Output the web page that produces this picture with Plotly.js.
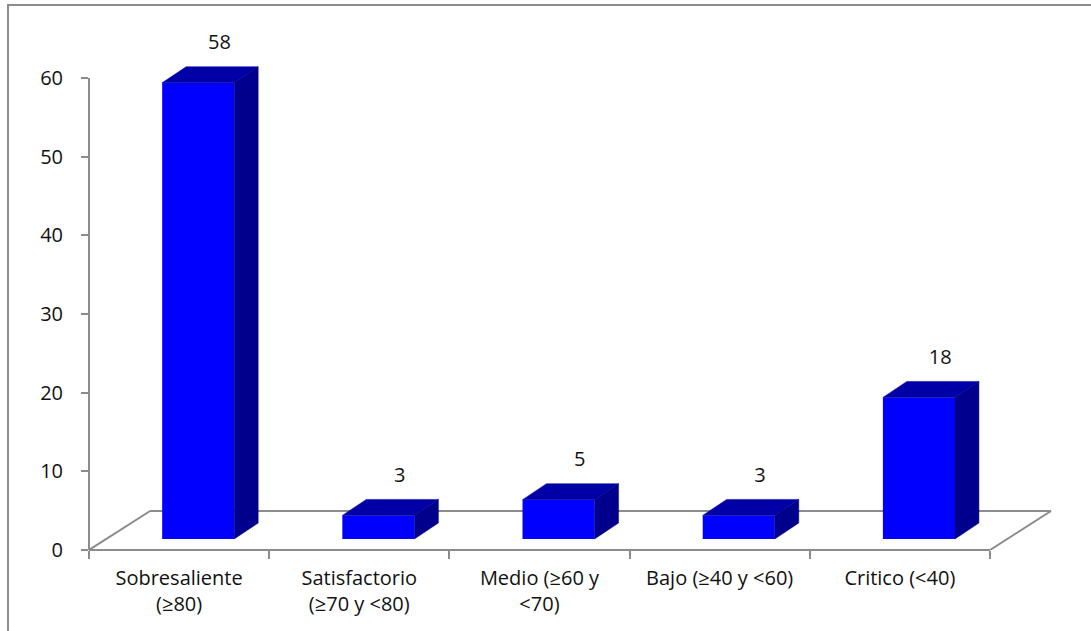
<!DOCTYPE html>
<html>
<head>
<meta charset="utf-8">
<script src="https://cdn.plot.ly/plotly-3.0.1.min.js"></script>
<style>
html,body{margin:0;padding:0;background:#fff;}
#chart{width:1091px;height:631px;}
</style>
</head>
<body>
<div id="chart"></div>
<script>
// ---- data ----
const categories = ["Sobresaliente<br>(≥80)", "Satisfactorio<br>(≥70 y &lt;80)", "Medio (≥60 y<br>&lt;70)", "Bajo (≥40 y &lt;60)", "Critico (&lt;40)"];
const values = [58, 3, 5, 3, 18];
const yTickVals = [0, 10, 20, 30, 40, 50, 60];
const yTickText = ["0", "10", "20", "30", "40", "50", "60"];

// ---- pseudo-3D geometry (in axis units) ----
const BASE = 1.4;     // floor height of bar front faces
const OFF = -0.094;   // bar left edge relative to category
const W = 0.4;        // bar width
const DX = 0.133;     // depth shift in x
const DY = 2.03;      // depth shift in y
const FLOOR_DX = 0.339, FLOOR_DY = 4.96;
const XR = [-0.5, 4.9];
const YR = [0, 68.64];

const W_PX = 1091, H_PX = 631;
const M = {l: 89, r: 29, t: 10, b: 81};
const plotW = W_PX - M.l - M.r, plotH = H_PX - M.t - M.b;

const topX = [], topY = [], sideX = [], sideY = [], labX = [], labY = [];
values.forEach((v, i) => {
  const x0 = i + OFF, x1 = x0 + W, top = BASE + v;
  topX.push(x0, x0 + DX, x1 + DX, x1, x0, null);
  topY.push(top, top + DY, top + DY, top, top, null);
  sideX.push(x1, x1 + DX, x1 + DX, x1, x1, null);
  sideY.push(BASE, BASE + DY, top + DY, top, BASE, null);
  labX.push(x0 + W / 2 + DX - 0.015);
  labY.push(top + DY + 2.85);
});

const FONT = "Open Sans, Arial, sans-serif";
const GRAY = "#8c8c8c";
const FS = 20;

const traces = [
  {type: "bar", x: categories, y: values, base: BASE, offset: OFF, width: W,
   marker: {color: "#0000FF", line: {width: 0}}, xaxis: "x", yaxis: "y", hoverinfo: "skip"},
  {type: "scatter", mode: "lines", x: topX, y: topY, fill: "toself", fillcolor: "#0000A6",
   line: {color: "#0000A6", width: 0.5}, xaxis: "x2", yaxis: "y", hoverinfo: "skip"},
  {type: "scatter", mode: "lines", x: sideX, y: sideY, fill: "toself", fillcolor: "#00008C",
   line: {color: "#00008C", width: 0.5}, xaxis: "x2", yaxis: "y", hoverinfo: "skip"},
  {type: "scatter", mode: "text", x: labX, y: labY, text: values.map(String),
   textposition: "middle center", textfont: {family: FONT, size: FS, color: "#111"},
   cliponaxis: false, xaxis: "x2", yaxis: "y", hoverinfo: "skip"}
];

const shapes = [
  // outer chart border (left & top visible)
  {type: "rect", xref: "paper", yref: "paper",
   x0: (8 - M.l) / plotW, x1: (W_PX + 20 - M.l) / plotW,
   y0: -(H_PX) / plotH, y1: (H_PX - 5 - M.b) / plotH,
   line: {color: GRAY, width: 2}, layer: "below"},
  // y axis line from 0 to 60
  {type: "line", xref: "paper", yref: "y", x0: 0, x1: 0, y0: 0, y1: 60,
   line: {color: GRAY, width: 2}, layer: "below"},
  // front floor edge (x axis line)
  {type: "line", xref: "x2", yref: "paper", x0: -0.5, x1: 4.5, y0: 0, y1: 0,
   line: {color: GRAY, width: 2}, layer: "below"},
  // back floor edge
  {type: "line", xref: "x2", yref: "y", x0: -0.5 + FLOOR_DX, x1: 4.5 + FLOOR_DX, y0: FLOOR_DY, y1: FLOOR_DY,
   line: {color: GRAY, width: 2}, layer: "below"},
  // floor sides
  {type: "line", xref: "x2", yref: "y", x0: -0.5, x1: -0.5 + FLOOR_DX, y0: 0, y1: FLOOR_DY,
   line: {color: GRAY, width: 2}, layer: "below"},
  {type: "line", xref: "x2", yref: "y", x0: 4.5, x1: 4.5 + FLOOR_DX, y0: 0, y1: FLOOR_DY,
   line: {color: GRAY, width: 2}, layer: "below"}
];

const layout = {
  width: W_PX, height: H_PX,
  margin: M,
  paper_bgcolor: "#fff", plot_bgcolor: "rgba(0,0,0,0)",
  showlegend: false,
  font: {family: FONT, color: "#111"},
  xaxis: {type: "category", range: XR, showgrid: false, zeroline: false, showline: false,
          ticks: "outside", tickson: "boundaries", ticklen: 8, tickwidth: 2, tickcolor: GRAY,
          ticklabelstandoff: 14,
          tickfont: {family: FONT, size: FS, color: "#111"}, fixedrange: true},
  xaxis2: {type: "linear", overlaying: "x", range: XR, visible: false, fixedrange: true},
  yaxis: {range: YR, showgrid: false, zeroline: false, showline: false,
          tickmode: "array", tickvals: yTickVals, ticktext: yTickText,
          ticks: "outside", ticklen: 7, tickwidth: 2, tickcolor: GRAY,
          ticklabelstandoff: 14,
          tickfont: {family: FONT, size: FS, color: "#111"}, fixedrange: true},
  shapes: shapes
};

Plotly.newPlot("chart", traces, layout, {displayModeBar: false, staticPlot: true});
</script>
</body>
</html>
